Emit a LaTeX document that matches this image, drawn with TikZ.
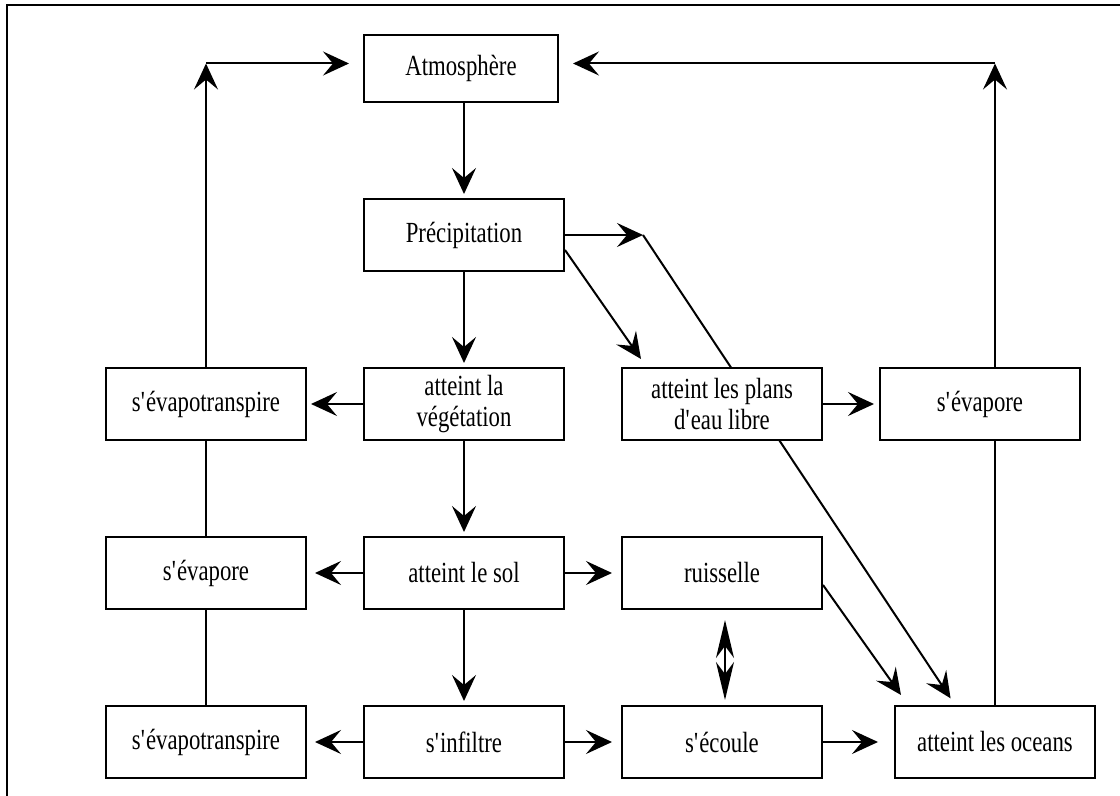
\documentclass[tikz,border=0pt]{standalone}
\usepackage{fontspec}
\setmainfont{Liberation Serif}[FakeStretch=0.78]
\usetikzlibrary{positioning,arrows.meta,backgrounds}

\newcommand{\ap}{\textquotesingle}

\tikzset{
  etape/.style={draw, line width=1pt, fill=white, minimum width=100pt,
    minimum height=36pt, inner sep=2pt, align=center,
    font=\fontsize{14.6}{15.5}\selectfont},
  flux/.style={line width=1pt, -{Stealth[length=13pt,width=12pt,inset=5pt]},
    shorten >=2pt},
  trait/.style={line width=1pt},
  double flux/.style={line width=1pt,
    {Stealth[length=19pt,width=9pt,inset=6pt]}-{Stealth[length=19pt,width=9pt,inset=6pt]}},
}

\begin{document}
\begin{tikzpicture}[x=0.5pt,y=-0.5pt,node distance=47.5pt and 28pt]

  \useasboundingbox (0,0) rectangle (1120,796);
  \draw[line width=1.4pt] (7,800) -- (7,5) -- (1125,5);

  % Nodes

  \node[etape, minimum width=97pt, minimum height=33.5pt] (atmo) at (461,68.5) {Atmosphère} ; %
  \node[etape, below=of atmo, xshift=1.5pt] (precip) {Précipitation} ; %
  \node[etape, below=of precip] (vegetation) {atteint la\\végétation} ; %
  \node[etape, below=of vegetation] (sol) {atteint le sol} ; %
  \node[etape, below=of sol] (infiltre) {s\ap infiltre} ; %

  \node[etape, left=of vegetation] (evapotransHaut) {s\ap évapotranspire} ; %
  \node[etape, left=of sol] (evapSol) {s\ap évapore} ; %
  \node[etape, left=of infiltre] (evapotransBas) {s\ap évapotranspire} ; %

  \node[etape, right=of vegetation] (plansEau) {atteint les plans\\d\ap eau libre} ; %
  \node[etape, right=of sol] (ruisselle) {ruisselle} ; %
  \node[etape, right=of infiltre] (ecoule) {s\ap écoule} ; %

  \node[etape, right=of plansEau] (evapEau) {s\ap évapore} ; %
  \node[etape, right=35.5pt of ecoule] (oceans) {atteint les oceans} ; %

  \coordinate (coinG) at ([yshift=2.5pt]evapotransHaut |- atmo) ; %
  \coordinate (coinD) at ([yshift=2.5pt]oceans.north |- atmo) ; %
  \coordinate[right=39pt of precip.east] (pSortie) ; %

  % Edges

  \begin{pgfonlayer}{background}
  \draw[flux] (precip.north |- atmo.south) -- (precip) ;
  \draw[flux] (precip) -- (vegetation) ;
  \draw[flux] (vegetation) -- (sol) ;
  \draw[flux] (sol) -- (infiltre) ;

  \draw[flux] (vegetation) -- (evapotransHaut) ;
  \draw[flux, shorten >=4pt] (sol) -- (evapSol) ;
  \draw[flux, shorten >=4pt] (infiltre) -- (evapotransBas) ;

  \draw[flux, shorten >=4.5pt] (sol) -- (ruisselle) ;
  \draw[flux, shorten >=4.5pt] (infiltre) -- (ecoule) ;
  \draw[flux, shorten >=8pt] (ecoule) -- (oceans) ;
  \draw[flux, shorten >=2.5pt] (plansEau) -- (evapEau) ;
  \draw[double flux, shorten <=5pt, shorten >=2.5pt]
    ([xshift=1.5pt]ruisselle.south) -- ([xshift=1.5pt]ecoule.north) ;

  \draw[flux, shorten >=0pt] (precip.east) -- (pSortie) ;
  \draw[flux, shorten >=4pt] (pSortie) -- ([xshift=-20pt]oceans.north) ;
  \draw[flux, shorten >=0pt] ([yshift=-7.5pt]precip.east) -- ([xshift=10pt,yshift=4pt]plansEau.north west) ;
  \draw[flux, shorten >=0pt] ([yshift=-6pt]ruisselle.east) -- ([xshift=3.5pt,yshift=5pt]oceans.north west) ;

  % back to the atmosphere
  \draw[trait] (evapotransBas) -- (evapSol) ;
  \draw[trait] (evapSol) -- (evapotransHaut) ;
  \draw[flux, shorten >=0pt] (evapotransHaut) -- (coinG) ;
  \draw[flux, shorten >=7pt] (coinG) -- (atmo.west |- coinG) ;

  \draw[trait] (oceans.north) -- (oceans.north |- evapEau.south) ;
  \draw[flux, shorten >=0pt] (oceans.north |- evapEau.north) -- (coinD) ;
  \draw[flux, shorten >=7pt] (coinD) -- (atmo.east |- coinD) ;
  \end{pgfonlayer}

\end{tikzpicture}
\end{document}
